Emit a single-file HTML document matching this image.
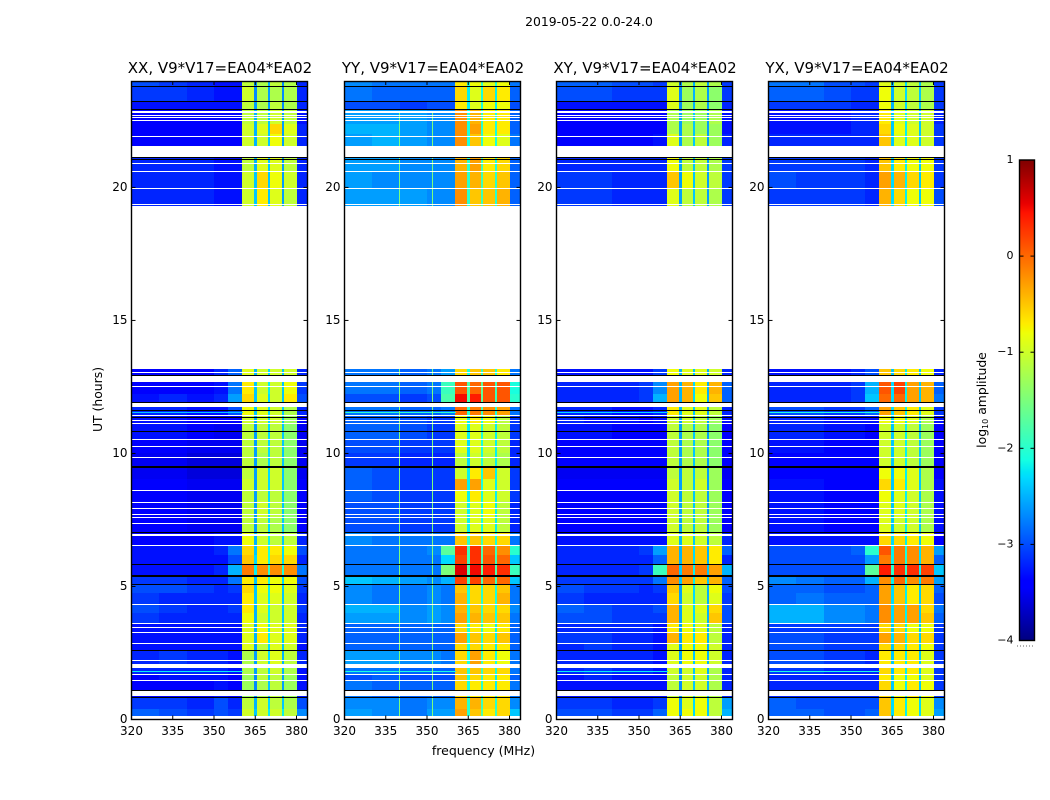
<!DOCTYPE html>
<html>
<head>
<meta charset="utf-8">
<title>2019-05-22 0.0-24.0</title>
<style>
html,body{margin:0;padding:0;background:#fff;}
svg{display:block;font-family:"DejaVu Sans","Liberation Sans",sans-serif;fill:#000;}
</style>
</head>
<body>
<svg id="fig" xmlns="http://www.w3.org/2000/svg" width="1050" height="800" viewBox="0 0 1050 800">
<text x="589" y="26" font-size="12.4" text-anchor="middle">2019-05-22 0.0-24.0</text>
<text x="483.5" y="755" font-size="12.5" text-anchor="middle">frequency (MHz)</text>
<text x="102" y="399.5" font-size="12.4" text-anchor="middle" transform="rotate(-90 102 399.5)">UT (hours)</text>
<text x="986" y="400" font-size="12.4" text-anchor="middle" transform="rotate(-90 986 400)">log<tspan font-size="8" dy="2">10</tspan><tspan dy="-2"> amplitude</tspan></text>
<g id="panels"></g>
<g id="cbar"></g>
</svg>
<script>
// Time-row edges (UT hours) and frequency-column edges (MHz)
const timeEdges = [0.12,0.4,0.85,1.5,1.72,2.09,2.62,2.88,3.3,3.62,4,4.35,4.75,5.1,5.45,5.83,6.2,6.57,7.05,7.6,8.2,8.63,9.05,9.5,10,10.55,11.15,11.45,11.9,12.25,12.7,13.16,19.3,19.99,20.63,21.16,21.55,22,22.4,22.9,23.24,23.8,24];
const freqEdges = [320,330,340,350,355,360.2,364.7,365.5,369.7,370.5,374.7,375.5,380,384];

// log10 amplitude in tenths, one row per time band, one value per frequency column
const xxLevels = [
[-29,-30,-31,-30,-31,-10,-24,-10,-22,-10,-22,-11,-27],
[-31,-31,-32,-30,-32,-11,-25,-10,-23,-11,-24,-12,-30],
[-34,-34,-34,-33,-34,-13,-27,-12,-24,-11,-26,-13,-33],
[-34,-33,-33,-33,-34,-13,-27,-11,-24,-11,-26,-13,-33],
[-32,-32,-32,-32,-33,-12,-26,-11,-23,-10,-25,-12,-33],
[-32,-31,-32,-32,-33,-12,-26,-10,-23,-9,-25,-11,-32],
[-33,-33,-33,-33,-33,-9,-26,-11,-23,-9,-24,-10,-33],
[-33,-33,-33,-33,-33,-9,-25,-7,-22,-9,-24,-9,-32],
[-33,-33,-33,-33,-33,-9,-25,-8,-22,-9,-24,-9,-32],
[-31,-32,-32,-32,-32,-8,-25,-10,-22,-10,-24,-10,-32],
[-30,-31,-32,-32,-31,-7,-25,-9,-22,-10,-24,-10,-31],
[-31,-32,-32,-32,-32,-7,-24,-9,-22,-9,-24,-10,-32],
[-30,-30,-31,-32,-31,-6,-24,-8,-22,-8,-24,-9,-31],
[-31,-31,-32,-32,-28,-7,-24,-7,-21,-8,-23,-8,-30],
[-33,-33,-33,-32,-25,-1,-22,-2,-20,-2,-21,-2,-28],
[-33,-33,-33,-33,-30,-5,-23,-7,-21,-6,-23,-6,-32],
[-33,-33,-33,-32,-28,-6,-24,-7,-21,-7,-23,-8,-30],
[-34,-34,-34,-33,-33,-8,-25,-10,-22,-11,-24,-11,-32],
[-34,-34,-35,-35,-35,-11,-26,-11,-23,-12,-24,-14,-34],
[-34,-34,-35,-35,-35,-11,-26,-10,-23,-11,-24,-14,-34],
[-34,-34,-35,-35,-35,-11,-26,-11,-23,-11,-24,-14,-34],
[-34,-34,-35,-35,-35,-10,-26,-10,-23,-10,-24,-14,-34],
[-35,-35,-36,-36,-36,-11,-26,-10,-23,-10,-24,-14,-35],
[-35,-35,-36,-36,-36,-11,-26,-12,-23,-11,-24,-14,-35],
[-34,-34,-35,-35,-35,-11,-26,-11,-23,-11,-24,-14,-35],
[-33,-33,-34,-35,-35,-11,-26,-11,-23,-11,-24,-14,-35],
[-33,-33,-34,-34,-34,-10,-25,-10,-23,-10,-24,-13,-34],
[-32,-32,-33,-33,-30,-8,-24,-9,-23,-10,-24,-12,-32],
[-33,-32,-33,-32,-26,-6,-24,-9,-23,-10,-24,-7,-30],
[-34,-34,-34,-33,-28,-7,-24,-10,-22,-10,-24,-8,-31],
[-34,-34,-34,-32,-29,-9,-25,-10,-23,-10,-24,-10,-32],
null,
[-32,-32,-32,-33,-33,-10,-24,-7,-24,-9,-26,-11,-32],
[-32,-32,-32,-33,-33,-10,-24,-6,-24,-8,-26,-10,-32],
[-32,-32,-32,-33,-33,-11,-25,-9,-24,-9,-26,-11,-32],
null,
[-34,-34,-34,-34,-34,-10,-25,-10,-24,-8,-26,-10,-32],
[-34,-34,-34,-34,-34,-10,-25,-9,-24,-6,-26,-9,-32],
[-34,-34,-34,-34,-34,-11,-25,-11,-24,-10,-26,-11,-33],
[-33,-33,-33,-33,-33,-11,-26,-12,-26,-11,-27,-12,-32],
[-31,-31,-32,-33,-33,-10,-27,-12,-26,-12,-27,-12,-32],
[-30,-31,-32,-33,-33,-11,-27,-12,-25,-11,-27,-12,-32]
];
const yyLevels = [
[-26,-27,-28,-26,-26,-3,-20,-5,-18,-7,-19,-6,-24],
[-27,-27,-28,-27,-27,-4,-20,-4,-19,-6,-20,-6,-27],
[-28,-29,-29,-29,-29,-6,-21,-7,-20,-7,-22,-7,-28],
[-30,-29,-30,-30,-30,-5,-21,-6,-20,-7,-22,-7,-29],
[-28,-28,-29,-29,-29,-5,-20,-5,-19,-6,-21,-6,-28],
[-26,-26,-27,-27,-28,-6,-21,-3,-19,-7,-21,-8,-28],
[-29,-29,-29,-29,-29,-6,-21,-6,-20,-7,-22,-7,-29],
[-29,-29,-29,-29,-29,-3,-21,-5,-20,-6,-22,-5,-29],
[-29,-29,-29,-29,-29,-6,-21,-7,-20,-8,-22,-7,-29],
[-26,-26,-27,-26,-27,-3,-21,-4,-19,-5,-21,-5,-28],
[-25,-25,-27,-26,-27,-4,-21,-5,-19,-6,-21,-6,-27],
[-27,-28,-28,-27,-28,-4,-21,-6,-20,-6,-21,-4,-28],
[-27,-28,-28,-27,-28,-5,-21,-6,-20,-6,-21,-5,-28],
[-24,-25,-26,-27,-25,2,-19,2,-18,0,-19,0,-24],
[-28,-28,-28,-28,-15,6,-18,5,-17,4,-18,3,-19],
[-28,-28,-28,-28,-23,2,-19,3,-18,1,-19,0,-24],
[-28,-28,-28,-27,-17,3,-19,3,-18,0,-19,-2,-20],
[-27,-28,-28,-28,-28,-5,-20,-5,-19,-6,-21,-6,-28],
[-30,-30,-31,-31,-31,-10,-22,-9,-21,-9,-22,-11,-32],
[-30,-30,-31,-31,-31,-10,-22,-9,-21,-8,-22,-11,-32],
[-29,-30,-31,-31,-31,-8,-22,-7,-21,-9,-22,-10,-31],
[-29,-30,-31,-31,-31,-3,-22,-3,-21,-9,-22,-10,-31],
[-29,-30,-31,-31,-31,-10,-22,-7,-21,-5,-22,-10,-31],
[-31,-31,-32,-32,-32,-11,-23,-10,-21,-11,-22,-12,-32],
[-30,-30,-31,-31,-31,-9,-23,-9,-21,-10,-22,-11,-32],
[-29,-29,-30,-31,-31,-9,-22,-9,-21,-10,-22,-11,-31],
[-29,-29,-30,-31,-31,-8,-22,-7,-21,-8,-22,-11,-31],
[-28,-28,-29,-29,-28,0,-20,-1,-19,-2,-21,-3,-28],
[-30,-30,-31,-30,-18,5,-18,4,-17,1,-19,1,-20],
[-28,-28,-29,-28,-19,1,-18,0,-17,1,-19,1,-21],
[-28,-28,-29,-28,-26,-6,-21,-5,-20,-5,-21,-7,-28],
null,
[-26,-26,-26,-27,-27,-2,-20,-5,-19,-5,-20,-4,-29],
[-26,-27,-27,-27,-27,-3,-20,-4,-19,-6,-20,-5,-29],
[-26,-26,-27,-27,-27,-4,-20,-3,-19,-7,-21,-6,-29],
null,
[-26,-25,-26,-27,-27,-2,-21,-5,-20,-8,-21,-9,-28],
[-25,-25,-26,-27,-27,-2,-21,-3,-20,-7,-21,-7,-29],
[-26,-26,-26,-27,-27,-2,-21,-4,-20,-7,-21,-7,-29],
[-30,-30,-31,-30,-30,-7,-22,-9,-21,-8,-22,-8,-30],
[-28,-29,-29,-29,-29,-6,-22,-9,-21,-6,-22,-7,-29],
[-27,-28,-28,-28,-28,-7,-21,-8,-20,-9,-21,-8,-28]
];
const xyLevels = [
[-30,-30,-31,-31,-29,-8,-26,-8,-23,-8,-24,-11,-25],
[-31,-31,-32,-32,-31,-8,-26,-9,-23,-8,-24,-11,-26],
[-33,-33,-33,-33,-33,-11,-27,-10,-24,-10,-25,-12,-32],
[-33,-32,-33,-33,-33,-11,-27,-10,-24,-10,-25,-12,-32],
[-32,-31,-32,-32,-33,-10,-27,-10,-24,-9,-25,-12,-32],
[-32,-32,-32,-32,-33,-9,-26,-8,-24,-8,-25,-10,-32],
[-32,-31,-32,-32,-33,-9,-26,-8,-23,-8,-25,-10,-32],
[-31,-31,-32,-32,-33,-4,-26,-7,-23,-7,-25,-11,-32],
[-32,-32,-32,-32,-33,-7,-26,-8,-23,-9,-25,-11,-32],
[-30,-30,-31,-31,-31,-4,-26,-9,-23,-10,-25,-5,-30],
[-29,-30,-31,-31,-30,-4,-26,-9,-23,-9,-25,-6,-30],
[-31,-32,-32,-32,-32,-6,-26,-10,-23,-11,-25,-9,-31],
[-30,-31,-31,-32,-31,-5,-26,-9,-23,-11,-25,-8,-30],
[-31,-31,-31,-31,-28,-2,-24,-3,-22,-5,-24,-4,-29],
[-32,-32,-32,-31,-19,0,-24,-1,-22,-1,-24,-3,-25],
[-32,-32,-32,-32,-29,-4,-25,-4,-23,-5,-25,-7,-32],
[-32,-32,-32,-31,-26,-4,-25,-4,-23,-5,-25,-7,-29],
[-33,-33,-33,-33,-33,-9,-25,-9,-24,-10,-26,-11,-32],
[-34,-34,-34,-34,-34,-10,-26,-11,-24,-11,-26,-13,-34],
[-34,-34,-34,-34,-34,-10,-26,-11,-24,-11,-26,-13,-34],
[-34,-34,-34,-34,-34,-10,-26,-11,-24,-11,-26,-13,-34],
[-34,-34,-34,-34,-34,-10,-26,-11,-24,-10,-26,-13,-34],
[-35,-35,-35,-35,-35,-11,-26,-11,-24,-11,-26,-13,-35],
[-34,-34,-34,-34,-34,-11,-26,-12,-24,-12,-26,-14,-34],
[-34,-34,-34,-34,-34,-11,-26,-12,-24,-12,-26,-14,-34],
[-33,-33,-34,-34,-34,-11,-26,-12,-24,-12,-26,-14,-34],
[-32,-33,-33,-34,-33,-10,-26,-10,-24,-11,-26,-13,-33],
[-32,-32,-33,-33,-32,-7,-25,-9,-24,-9,-26,-11,-32],
[-32,-32,-32,-31,-25,-3,-25,-4,-23,-8,-25,-5,-29],
[-32,-32,-32,-31,-27,-3,-25,-4,-23,-7,-25,-4,-29],
[-33,-33,-33,-33,-31,-8,-25,-9,-24,-9,-25,-10,-32],
null,
[-31,-31,-32,-32,-32,-9,-26,-11,-24,-11,-26,-12,-31],
[-31,-31,-32,-32,-32,-5,-26,-8,-24,-10,-26,-11,-31],
[-32,-32,-32,-32,-32,-8,-26,-11,-24,-11,-26,-12,-31],
null,
[-34,-34,-34,-34,-33,-9,-26,-12,-24,-11,-26,-13,-32],
[-34,-34,-34,-34,-34,-12,-26,-12,-24,-13,-26,-13,-33],
[-34,-34,-34,-34,-34,-12,-26,-13,-24,-13,-26,-12,-33],
[-33,-33,-33,-33,-33,-9,-27,-13,-25,-12,-26,-14,-32],
[-30,-30,-31,-31,-31,-9,-27,-13,-25,-12,-26,-14,-31],
[-29,-29,-30,-30,-31,-10,-27,-12,-25,-11,-26,-12,-31]
];
const yxLevels = [
[-29,-29,-30,-30,-29,-5,-23,-7,-22,-8,-23,-9,-26],
[-29,-30,-30,-30,-30,-5,-23,-7,-22,-8,-23,-9,-27],
[-32,-32,-32,-32,-32,-6,-24,-8,-22,-7,-24,-8,-31],
[-32,-32,-32,-32,-32,-7,-24,-8,-22,-8,-24,-9,-31],
[-31,-31,-32,-32,-32,-6,-24,-7,-22,-7,-24,-9,-31],
[-30,-30,-31,-31,-32,-7,-24,-7,-22,-7,-24,-9,-31],
[-30,-30,-31,-31,-31,-6,-24,-6,-22,-7,-24,-8,-31],
[-30,-30,-31,-31,-31,-3,-23,-4,-22,-6,-24,-6,-31],
[-31,-31,-31,-31,-31,-6,-24,-6,-22,-8,-24,-8,-31],
[-25,-25,-27,-27,-28,-2,-23,-3,-22,-3,-24,-5,-29],
[-25,-25,-27,-27,-28,-2,-23,-3,-22,-3,-24,-6,-28],
[-29,-28,-29,-29,-29,-3,-23,-5,-22,-7,-24,-6,-30],
[-29,-29,-30,-30,-29,-3,-23,-5,-22,-7,-24,-6,-29],
[-27,-28,-29,-29,-25,-2,-22,0,-21,-2,-23,-1,-26],
[-30,-30,-30,-30,-17,4,-20,3,-20,3,-22,2,-24],
[-30,-30,-30,-30,-26,-1,-22,-1,-21,-2,-23,-4,-29],
[-30,-30,-30,-29,-20,1,-22,-1,-21,-2,-23,-4,-26],
[-33,-33,-33,-33,-33,-6,-23,-6,-22,-7,-24,-8,-34],
[-33,-33,-34,-34,-34,-9,-24,-10,-22,-10,-24,-12,-33],
[-33,-33,-34,-34,-34,-9,-24,-9,-22,-10,-24,-12,-33],
[-33,-33,-34,-34,-34,-8,-24,-9,-22,-10,-24,-12,-33],
[-33,-33,-34,-34,-34,-6,-24,-7,-22,-9,-24,-12,-33],
[-34,-34,-34,-34,-34,-8,-24,-8,-22,-9,-24,-12,-34],
[-34,-34,-34,-34,-34,-10,-24,-10,-22,-11,-24,-13,-34],
[-33,-33,-34,-34,-34,-10,-24,-10,-22,-11,-24,-13,-34],
[-32,-32,-33,-33,-34,-10,-24,-10,-22,-11,-24,-13,-34],
[-32,-32,-33,-33,-33,-8,-24,-8,-22,-9,-24,-12,-33],
[-30,-30,-31,-31,-29,-3,-23,-5,-22,-7,-24,-9,-31],
[-32,-32,-32,-31,-24,0,-23,0,-22,-3,-24,-4,-28],
[-32,-32,-32,-31,-25,1,-23,2,-22,-3,-24,-4,-29],
[-33,-33,-33,-32,-30,-5,-24,-6,-22,-7,-24,-8,-32],
null,
[-31,-31,-31,-31,-32,-4,-23,-6,-22,-8,-24,-8,-30],
[-30,-31,-31,-31,-32,-3,-23,-4,-22,-6,-24,-7,-31],
[-31,-31,-31,-31,-32,-5,-23,-7,-22,-8,-24,-8,-31],
null,
[-32,-32,-32,-32,-32,-5,-24,-9,-22,-9,-24,-10,-31],
[-33,-33,-33,-32,-32,-6,-24,-8,-22,-9,-24,-10,-31],
[-33,-33,-33,-32,-32,-7,-24,-9,-22,-10,-24,-10,-32],
[-31,-31,-31,-32,-32,-8,-25,-10,-23,-11,-24,-12,-31],
[-29,-29,-30,-31,-31,-8,-25,-10,-23,-11,-24,-12,-31],
[-28,-28,-30,-30,-31,-9,-25,-10,-23,-11,-24,-12,-31]
];

// Flagged / missing time ranges shared by all panels (hours)
const whiteBlockStart = [0,0.88,1.94,6.89,11.74,12.7,13.16,21.16,22.79];
const whiteBlockEnd = [0.12,1.06,2.09,6.98,11.89,12.9,19.3,21.54,22.88];
const whiteLineHours = [1.49,1.72,2.24,2.88,3.3,3.48,3.62,4.35,5.86,6.57,7.38,7.61,7.71,7.94,8.17,8.63,9.86,10.29,10.55,11.15,11.26,11.43,12.52,13.06,19.39,19.99,20.63,20.93,21.94,22.55,22.64,22.72];
const blackLineHours = [0.84,1.1,2.62,5.1,5.45,5.83,7.05,9.51,10.83,11.37,11.62,11.94,12.94,21.05,21.14,22.93,23.24,23.8];
const thickBlackHours = [5.45,9.51];

// Narrow interference features
const rfiRowHours = [1.84,11.56];
const rfiRowLevels = [[-22,-24],[-21,-20],[-22,-23],[-21,-21]];
const rfiChannelFreqs = [339.8,351.7];
const rfiChannelLevels = [null,-15,null,null];

// Axes
const panelTitles = ["XX, V9*V17=EA04*EA02","YY, V9*V17=EA04*EA02","XY, V9*V17=EA04*EA02","YX, V9*V17=EA04*EA02"];
const panelKeys = ["xx","yy","xy","yx"];
const panelLevels = [xxLevels,yyLevels,xyLevels,yxLevels];
const xTicks = [320,335,350,365,380];
const yTicks = [0,5,10,15,20];
const cbarTicks = [1,0,-1,-2,-3,-4];

const NS = "http://www.w3.org/2000/svg";
const panelLeft = [131.5,344.5,556.5,768.5];
const panelWidth = 176;
const axisTop = 81;
const axisBottom = 719.5;
const xMin = 320, xMax = 384, yMin = 0, yMax = 24, vMin = -4, vMax = 1;

function xScale(p, f){ return panelLeft[p] + (f - xMin) / (xMax - xMin) * panelWidth; }
function yScale(h){ return axisBottom - (h - yMin) / (yMax - yMin) * (axisBottom - axisTop); }
function clamp(a){ return Math.max(0, Math.min(1, a)); }
function jet(v){
  const t = clamp((v - vMin) / (vMax - vMin));
  let r, g, b;
  r = t < .35 ? 0 : t < .66 ? (t - .35) / .31 : t < .89 ? 1 : 1 - .5 * (t - .89) / .11;
  g = t < .125 ? 0 : t < .375 ? (t - .125) / .25 : t < .64 ? 1 : t < .91 ? 1 - (t - .64) / .27 : 0;
  b = t < .11 ? .5 + .5 * t / .11 : t < .34 ? 1 : t < .65 ? 1 - (t - .34) / .31 : 0;
  return "rgb(" + Math.round(r * 255) + "," + Math.round(g * 255) + "," + Math.round(b * 255) + ")";
}
function mk(parent, tag, attrs){
  const el = document.createElementNS(NS, tag);
  for (const k in attrs) el.setAttribute(k, attrs[k]);
  parent.appendChild(el);
  return el;
}

const panelsG = document.getElementById("panels");
panelLevels.forEach(function(levels, p){
  const key = panelKeys[p];
  const L = panelLeft[p], R = L + panelWidth;
  const g = mk(panelsG, "g", {});
  
  

  const heat = mk(g, "g", {"shape-rendering":"crispEdges"});
  
  

  levels.forEach(function(row, i){
    if (!row) return;
    row.forEach(function(val, j){
      const x0 = Math.round(xScale(p, freqEdges[j])), x1 = Math.round(xScale(p, freqEdges[j + 1]));
      const y0 = Math.round(yScale(timeEdges[i + 1])), y1 = Math.round(yScale(timeEdges[i]));
      const c = mk(heat, "rect", {x:x0, y:y0, width:x1 - x0, height:y1 - y0, fill:jet(val / 10)});
      
      
    });
  });

  rfiRowHours.forEach(function(h, i){
    const r = mk(heat, "rect", {x:Math.round(xScale(p, 320)), y:Math.round(yScale(h)), width:Math.round(xScale(p, 360.2) - xScale(p, 320)), height:1, fill:jet(rfiRowLevels[p][i] / 10)});
    
    
  });
  if (rfiChannelLevels[p] !== null) {
    rfiChannelFreqs.forEach(function(f){
      const r = mk(heat, "rect", {x:Math.round(xScale(p, f)), y:Math.round(yScale(22.8)), width:1, height:Math.round(yScale(0.12) - yScale(22.8)), fill:jet(rfiChannelLevels[p] / 10)});
      
      
    });
  }

  const flags = mk(g, "g", {"shape-rendering":"crispEdges"});
  
  
  whiteBlockStart.forEach(function(s, i){
    const y0 = Math.round(yScale(whiteBlockEnd[i])), y1 = Math.round(yScale(s));
    const r = mk(flags, "rect", {x:L, y:y0, width:panelWidth, height:y1 - y0, fill:"#fff"});
    
    
  });
  whiteLineHours.forEach(function(h){
    const r = mk(flags, "rect", {x:L, y:Math.round(yScale(h)), width:panelWidth, height:1, fill:"#fff"});
    
    
  });
  blackLineHours.forEach(function(h){
    const thick = thickBlackHours.indexOf(h) >= 0;
    const r = mk(flags, "rect", {x:L, y:Math.round(yScale(h)), width:panelWidth, height:thick ? 2 : 1, fill:"#000"});
    
    
  });

  const frame = mk(g, "rect", {x:L, y:axisTop + 0.5, width:panelWidth, height:axisBottom - axisTop - 0.5, fill:"none", stroke:"#000", "stroke-width":1.4});
  
  

  xTicks.forEach(function(t){
    const x = xScale(p, t);
    const a = mk(g, "line", {x1:x, x2:x, y1:axisBottom, y2:axisBottom - 4, stroke:"#000", "stroke-width":1});
    
    
    const b = mk(g, "line", {x1:x, x2:x, y1:axisTop, y2:axisTop + 4, stroke:"#000", "stroke-width":1});
    
    
    const lab = mk(g, "text", {x:x, y:735, "font-size":12, "text-anchor":"middle"});
    
    
    lab.textContent = t;
  });
  yTicks.forEach(function(t){
    const y = yScale(t);
    const a = mk(g, "line", {x1:L, x2:L + 4, y1:y, y2:y, stroke:"#000", "stroke-width":1});
    
    
    const b = mk(g, "line", {x1:R, x2:R - 4, y1:y, y2:y, stroke:"#000", "stroke-width":1});
    
    
    const lab = mk(g, "text", {x:L - 4, y:y + 3.5, "font-size":12, "text-anchor":"end"});
    
    
    lab.textContent = t;
  });

  const title = mk(g, "text", {x:L + panelWidth / 2 + 0.5, y:73, "font-size":15, "text-anchor":"middle"});
  
  
  title.textContent = panelTitles[p];
});

// Colorbar
const cb = document.getElementById("cbar");
const cbLeft = 1019.5, cbRight = 1034.5, cbTop = 160, cbBottom = 640.5;
function cbY(v){ return cbBottom - (v - vMin) / (vMax - vMin) * (cbBottom - cbTop); }
const strips = mk(cb, "g", {"shape-rendering":"crispEdges"});


for (let py = Math.floor(cbTop); py < cbBottom; py++) {
  const s = mk(strips, "rect", {x:cbLeft, y:py, width:cbRight - cbLeft, height:1, fill:jet(vMax - (py + .5 - cbTop) / (cbBottom - cbTop) * (vMax - vMin))});
  
  
}
const cbFrame = mk(cb, "rect", {x:cbLeft, y:cbTop, width:cbRight - cbLeft, height:cbBottom - cbTop, fill:"none", stroke:"#000", "stroke-width":1.4});


cbarTicks.forEach(function(t){
  const y = cbY(t);
  const a = mk(cb, "line", {x1:cbLeft, x2:cbLeft + 4, y1:y, y2:y, stroke:"#000", "stroke-width":1});
  
  
  const b = mk(cb, "line", {x1:cbRight, x2:cbRight - 4, y1:y, y2:y, stroke:"#000", "stroke-width":1});
  
  
  const lab = mk(cb, "text", {x:1013.5, y:y + 3, "font-size":11, "text-anchor":"end"});
  
  
  lab.textContent = t < 0 ? "\u2212" + Math.abs(t) : t;
});
const dots = mk(cb, "line", {x1:1017, x2:1035, y1:646, y2:646, stroke:"#666", "stroke-width":1, "stroke-dasharray":"1 2"});


</script>
</body>
</html>
